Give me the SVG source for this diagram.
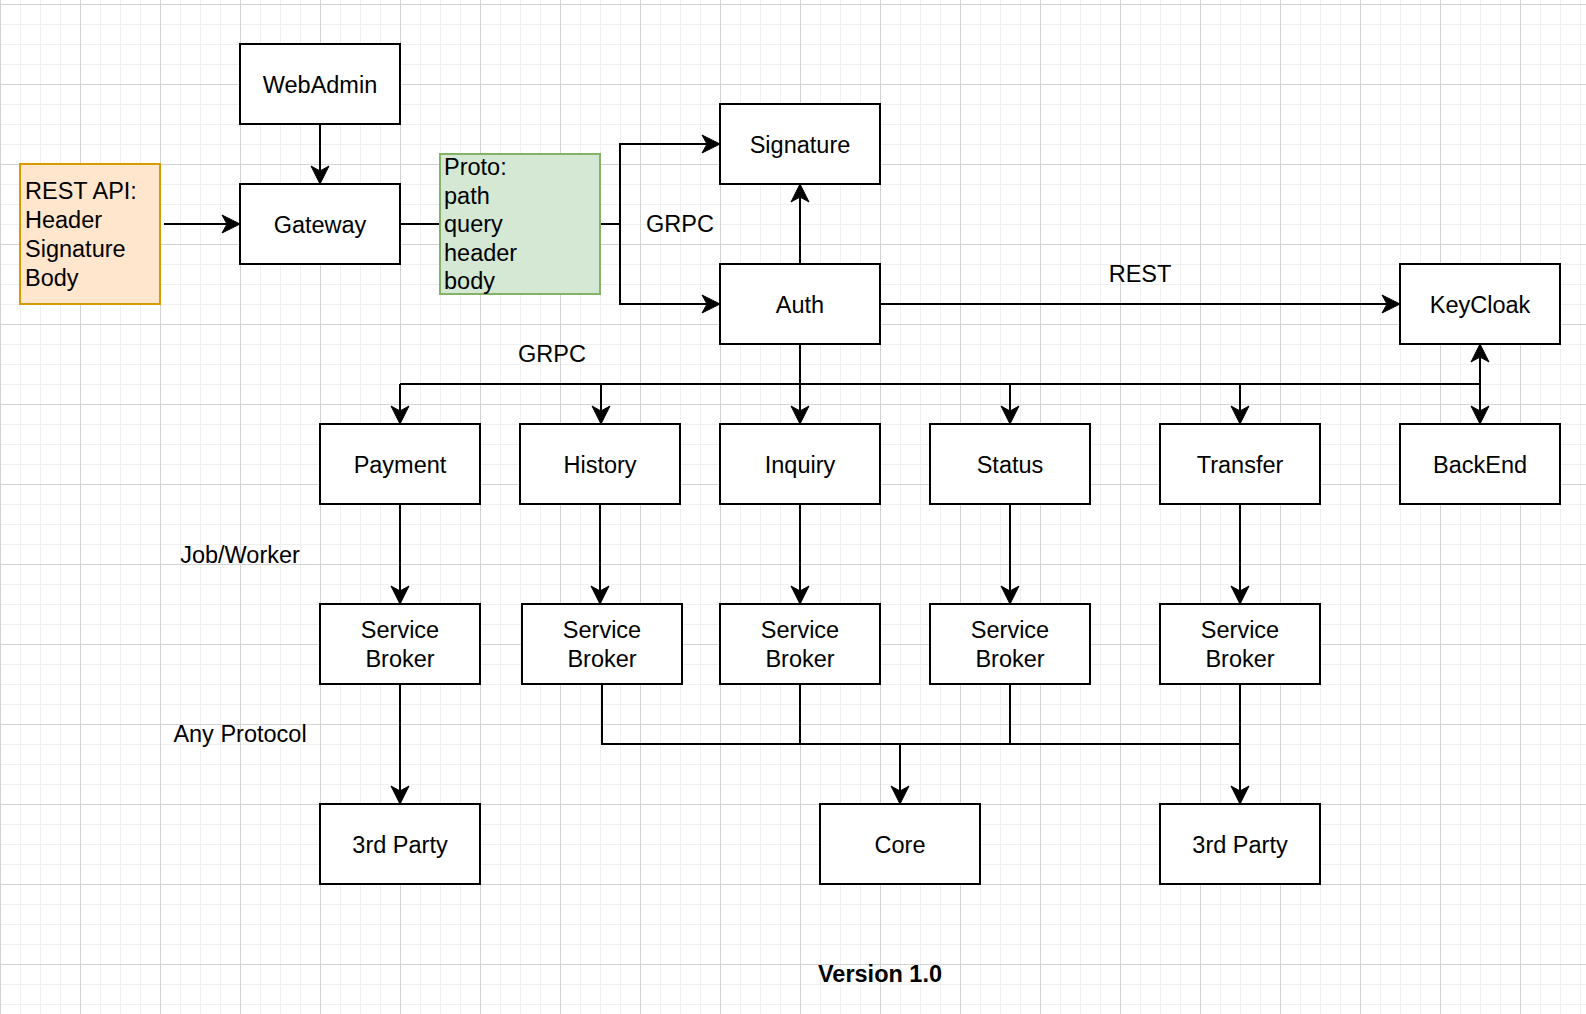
<svg xmlns="http://www.w3.org/2000/svg" width="1586" height="1014" viewBox="0 0 1586 1014">
<style>
  .box { fill: #ffffff; stroke: #000000; stroke-width: 2; }
  .orange { fill: #ffe6cc; stroke: #d79b00; stroke-width: 2; }
  .green { fill: #d5e8d4; stroke: #82b366; stroke-width: 2; }
  text { font-family: "Liberation Sans", Arial, Helvetica, sans-serif; font-size: 23.5px; fill: #000000; }
  .c { text-anchor: middle; }
  .b { font-weight: bold; }
  .edge { fill: none; stroke: #000000; stroke-width: 2; }
  .arr { marker-end: url(#arrow); }
</style>
<defs>
  <pattern id="grid" patternUnits="userSpaceOnUse" x="0" y="4" width="80" height="80">
    <rect x="0" y="20" width="80" height="1" fill="#f0f0f0"/>
    <rect x="0" y="40" width="80" height="1" fill="#f0f0f0"/>
    <rect x="0" y="60" width="80" height="1" fill="#f0f0f0"/>
    <rect x="20" y="0" width="1" height="80" fill="#f0f0f0"/>
    <rect x="40" y="0" width="1" height="80" fill="#f0f0f0"/>
    <rect x="60" y="0" width="1" height="80" fill="#f0f0f0"/>
    <rect x="0" y="0" width="80" height="1" fill="#d3d3d3"/>
    <rect x="0" y="0" width="1" height="80" fill="#d3d3d3"/>
  </pattern>
  <marker id="arrow" viewBox="-19 -10 20 20" refX="0" refY="0" markerWidth="20" markerHeight="20" markerUnits="userSpaceOnUse" orient="auto-start-reverse">
    <path d="M0,0 L-18,-9 L-13,0 L-18,9 Z" fill="#000000" stroke="#000000" stroke-width="1" stroke-linejoin="miter"/>
  </marker>
</defs>
<rect x="0" y="0" width="1586" height="1014" fill="#ffffff"/>
<rect x="0" y="0" width="1586" height="1014" fill="url(#grid)"/>

<g id="connectors">
  <path class="edge arr" d="M320,124 V184"/>
  <path class="edge arr" d="M164,224 H240"/>
  <path class="edge" d="M400,224 H440"/>
  <path class="edge arr" d="M600,224 H620 V144 H720"/>
  <path class="edge arr" d="M620,224 V304 H720"/>
  <path class="edge arr" d="M800,264 V184"/>
  <path class="edge arr" d="M880,304 H1400"/>
  <path class="edge arr" d="M800,344 V424"/>
  <path class="edge" d="M400,384 H1480"/>
  <path class="edge arr" d="M400,384 V424"/>
  <path class="edge arr" d="M601,384 V424"/>
  <path class="edge arr" d="M1010,384 V424"/>
  <path class="edge arr" d="M1240,384 V424"/>
  <path class="edge" style="marker-start:url(#arrow);marker-end:url(#arrow)" d="M1480,344 V424"/>
  <path class="edge arr" d="M400,504 V604"/>
  <path class="edge arr" d="M600,504 V604"/>
  <path class="edge arr" d="M800,504 V604"/>
  <path class="edge arr" d="M1010,504 V604"/>
  <path class="edge arr" d="M1240,504 V604"/>
  <path class="edge arr" d="M400,684 V804"/>
  <path class="edge" d="M602,684 V744 H1240"/>
  <path class="edge" d="M800,684 V744"/>
  <path class="edge" d="M1010,684 V744"/>
  <path class="edge arr" d="M900,744 V804"/>
  <path class="edge arr" d="M1240,684 V804"/>
</g>

<g id="labels">
  <text class="c" x="680" y="232">GRPC</text>
  <text class="c" x="552" y="362">GRPC</text>
  <text class="c" x="1140" y="282">REST</text>
  <text class="c" x="240" y="562.5">Job/Worker</text>
  <text class="c" x="240" y="742">Any Protocol</text>
  <text class="c b" x="880" y="982">Version 1.0</text>
</g>

<g id="rest-api">
  <rect class="orange" x="20" y="164" width="140" height="140"/>
  <text x="25" y="199">REST API:</text>
  <text x="25" y="228">Header</text>
  <text x="25" y="257">Signature</text>
  <text x="25" y="285.5">Body</text>
</g>
<g id="webadmin">
  <rect class="box" x="240" y="44" width="160" height="80"/>
  <text class="c" x="320" y="92.5">WebAdmin</text>
</g>
<g id="gateway">
  <rect class="box" x="240" y="184" width="160" height="80"/>
  <text class="c" x="320" y="232.5">Gateway</text>
</g>
<g id="proto">
  <rect class="green" x="440" y="154" width="160" height="140"/>
  <text x="444" y="175">Proto:</text>
  <text x="444" y="203.5">path</text>
  <text x="444" y="232">query</text>
  <text x="444" y="260.5">header</text>
  <text x="444" y="289">body</text>
</g>
<g id="signature">
  <rect class="box" x="720" y="104" width="160" height="80"/>
  <text class="c" x="800" y="152.5">Signature</text>
</g>
<g id="auth">
  <rect class="box" x="720" y="264" width="160" height="80"/>
  <text class="c" x="800" y="312.5">Auth</text>
</g>
<g id="keycloak">
  <rect class="box" x="1400" y="264" width="160" height="80"/>
  <text class="c" x="1480" y="312.5">KeyCloak</text>
</g>
<g id="payment">
  <rect class="box" x="320" y="424" width="160" height="80"/>
  <text class="c" x="400" y="472.5">Payment</text>
</g>
<g id="history">
  <rect class="box" x="520" y="424" width="160" height="80"/>
  <text class="c" x="600" y="472.5">History</text>
</g>
<g id="inquiry">
  <rect class="box" x="720" y="424" width="160" height="80"/>
  <text class="c" x="800" y="472.5">Inquiry</text>
</g>
<g id="status">
  <rect class="box" x="930" y="424" width="160" height="80"/>
  <text class="c" x="1010" y="472.5">Status</text>
</g>
<g id="transfer">
  <rect class="box" x="1160" y="424" width="160" height="80"/>
  <text class="c" x="1240" y="472.5">Transfer</text>
</g>
<g id="backend">
  <rect class="box" x="1400" y="424" width="160" height="80"/>
  <text class="c" x="1480" y="472.5">BackEnd</text>
</g>
<g id="sb-payment">
  <rect class="box" x="320" y="604" width="160" height="80"/>
  <text class="c" x="400" y="638">Service</text>
  <text class="c" x="400" y="666.5">Broker</text>
</g>
<g id="sb-history">
  <rect class="box" x="522" y="604" width="160" height="80"/>
  <text class="c" x="602" y="638">Service</text>
  <text class="c" x="602" y="666.5">Broker</text>
</g>
<g id="sb-inquiry">
  <rect class="box" x="720" y="604" width="160" height="80"/>
  <text class="c" x="800" y="638">Service</text>
  <text class="c" x="800" y="666.5">Broker</text>
</g>
<g id="sb-status">
  <rect class="box" x="930" y="604" width="160" height="80"/>
  <text class="c" x="1010" y="638">Service</text>
  <text class="c" x="1010" y="666.5">Broker</text>
</g>
<g id="sb-transfer">
  <rect class="box" x="1160" y="604" width="160" height="80"/>
  <text class="c" x="1240" y="638">Service</text>
  <text class="c" x="1240" y="666.5">Broker</text>
</g>
<g id="third-party-1">
  <rect class="box" x="320" y="804" width="160" height="80"/>
  <text class="c" x="400" y="852.5">3rd Party</text>
</g>
<g id="core">
  <rect class="box" x="820" y="804" width="160" height="80"/>
  <text class="c" x="900" y="852.5">Core</text>
</g>
<g id="third-party-2">
  <rect class="box" x="1160" y="804" width="160" height="80"/>
  <text class="c" x="1240" y="852.5">3rd Party</text>
</g>
</svg>
